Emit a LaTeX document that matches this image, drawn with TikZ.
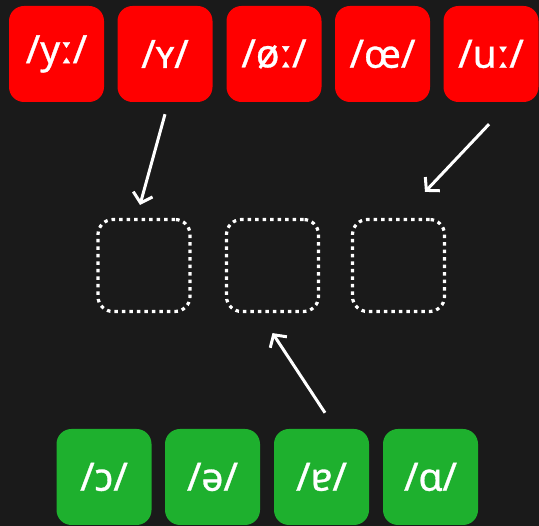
\documentclass[tikz,border=0pt]{standalone}
\usepackage{fontspec}
\setmainfont{Noto Sans}[FakeBold=0.8]
\usetikzlibrary{arrows.meta,calc}
\definecolor{bg}{HTML}{1A1A1A}
\definecolor{redbox}{HTML}{FF0000}
\definecolor{greenbox}{HTML}{1EB02E}
\tikzset{
  tile/.style={rounded corners=15pt, minimum width=95pt, minimum height=96pt, inner sep=0pt, text=white, font=\fontsize{39}{42}\selectfont},
  redtile/.style={tile, fill=redbox},
  greentile/.style={tile, fill=greenbox},
  slot/.style={draw=white, line width=3.2pt, dash pattern=on 3.5pt off 4pt, rounded corners=15pt, minimum width=92pt, minimum height=92pt, inner sep=0pt},
  arr/.style={draw=white, line width=3pt, -{Straight Barb[length=9pt,width=20pt,line width=3pt]}}
}
\begin{document}
\begin{tikzpicture}[x=1pt,y=-1pt]
\fill[bg] (0,0) rectangle (539,526);
\useasboundingbox (0,0) rectangle (539,526);
% top row
\node[redtile] (r1) at (56.5,54) {/yː/};
\node[redtile] (r2) at (165,54) {/ʏ/};
\node[redtile] (r3) at (274,54) {/øː/};
\node[redtile] (r4) at (382.5,54) {/œ/};
\node[redtile] (r5) at (491,54) {/uː/};
% slots
\node[slot] (s1) at (144,265.5) {};
\node[slot] (s2) at (272.5,265.5) {};
\node[slot] (s3) at (398.5,265.5) {};
% bottom row
\node[greentile] (g1) at (104,477) {/ɔ/};
\node[greentile] (g2) at (212.5,477) {/ə/};
\node[greentile] (g3) at (321.5,477) {/ɐ/};
\node[greentile] (g4) at (430.5,477) {/ɑ/};
% arrow ends
\coordinate (a1s) at ($(r2.south)+(0,12)$);
\coordinate (a1e) at ($(s1.north)+(-4,-13)$);
\coordinate (a2s) at ($(r5.south)+(-2,22)$);
\coordinate (a2e) at ($(s3.north)+(26.5,-26)$);
\coordinate (a3s) at ($(g3.north)+(3.5,-16)$);
\coordinate (a3e) at ($(s2.south)+(0,20)$);
\draw[arr] (a1s) -- (a1e);
\draw[arr] (a2s) -- (a2e);
\draw[arr] (a3s) -- (a3e);
\end{tikzpicture}
\end{document}
